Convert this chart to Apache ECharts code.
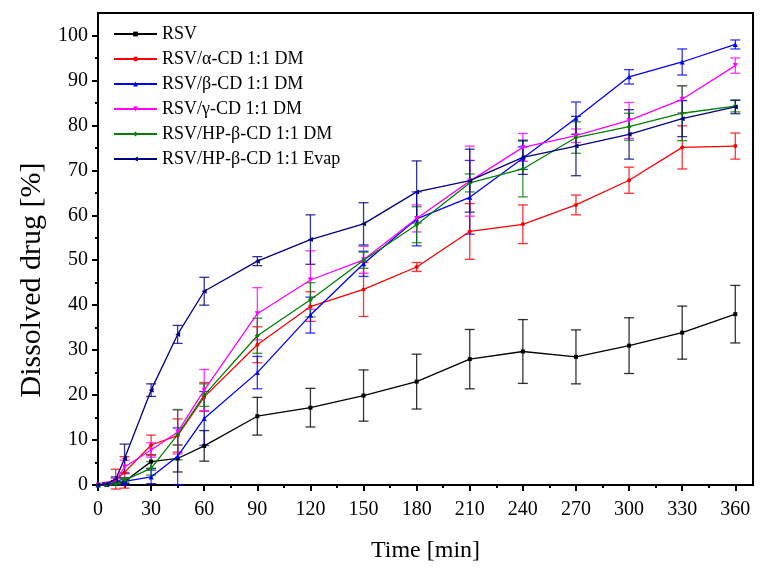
<!DOCTYPE html>
<html>
<head>
<meta charset="utf-8">
<script src="https://cdn.jsdelivr.net/npm/echarts@6/dist/echarts.min.js"></script>
<style>html,body{margin:0;padding:0;background:#fff;}#c{width:763px;height:575px;}</style>
</head>
<body>
<div id="c"></div>
<script>
const times = [0, 5, 10, 15, 30, 45, 60, 90, 120, 150, 180, 210, 240, 270, 300, 330, 360];
const xTicks = [0, 30, 60, 90, 120, 150, 180, 210, 240, 270, 300, 330, 360];
const xMinorTicks = [15, 45, 75, 105, 135, 165, 195, 225, 255, 285, 315, 345];
const yTicks = [0, 10, 20, 30, 40, 50, 60, 70, 80, 90, 100];
const yMinorTicks = [5, 15, 25, 35, 45, 55, 65, 75, 85, 95];

const seriesNames = ['RSV', 'RSV/\u03b1-CD 1:1 DM', 'RSV/\u03b2-CD 1:1 DM', 'RSV/\u03b3-CD 1:1 DM', 'RSV/HP-\u03b2-CD 1:1 DM', 'RSV/HP-\u03b2-CD 1:1 Evap'];

const rsv      = [0, 0, 0.3, 0.8, 5.2, 5.9, 8.7, 15.3, 17.2, 19.9, 23.0, 28.0, 29.7, 28.5, 31.0, 33.9, 38.0];
const rsvErr   = [0, 0, 0.3, 0.5, 1.5, 3.0, 3.4, 4.2, 4.3, 5.7, 6.1, 6.6, 7.1, 6.0, 6.2, 5.9, 6.4];
const alpha    = [0, 0.2, 1.3, 2.8, 8.9, 11.0, 19.6, 31.2, 39.7, 43.5, 48.5, 56.4, 58.0, 62.3, 67.8, 75.1, 75.4];
const alphaErr = [0, 0.3, 2.2, 3.5, 2.2, 3.7, 3.2, 4.0, 3.3, 6.0, 1.0, 6.2, 4.3, 2.2, 2.9, 4.8, 2.9];
const beta     = [0, 0.1, 0.5, 0.8, 1.8, 6.4, 14.8, 25.0, 37.8, 49.2, 59.2, 64.0, 72.7, 81.6, 90.8, 94.1, 98.0];
const betaErr  = [0, 0.1, 0.5, 0.8, 1.5, 6.3, 6.0, 3.6, 4.0, 2.8, 6.0, 8.2, 2.5, 3.6, 1.6, 2.9, 1.0];
const gamma    = [0, 0.2, 1.0, 4.0, 7.8, 11.8, 21.1, 38.1, 45.6, 50.1, 59.3, 67.6, 75.1, 77.7, 81.1, 85.8, 93.3];
const gammaErr = [0, 0.2, 0.5, 1.5, 1.6, 4.9, 4.6, 5.8, 6.5, 3.0, 3.0, 7.8, 3.1, 1.5, 4.0, 3.0, 1.7];
const hpDM     = [0, 0.1, 0.3, 1.1, 3.7, 11.2, 20.0, 33.2, 41.2, 50.0, 57.9, 67.2, 70.3, 77.3, 79.7, 82.7, 84.3];
const hpDMErr  = [0, 0.1, 0.3, 0.5, 1.5, 5.6, 2.5, 3.9, 3.8, 1.8, 4.0, 2.0, 6.2, 3.5, 3.0, 6.1, 1.3];
const hpEvap   = [0, 0.3, 1.3, 5.9, 21.1, 33.5, 43.1, 49.8, 54.6, 58.1, 65.2, 67.7, 72.9, 75.4, 78.0, 81.5, 84.1];
const hpEvapErr= [0, 0.2, 0.5, 3.2, 1.4, 2.0, 3.1, 1.0, 5.5, 4.7, 6.9, 7.0, 3.8, 6.6, 5.5, 4.0, 1.5];

const allVals = [rsv, alpha, beta, gamma, hpDM, hpEvap];
const allErrs = [rsvErr, alphaErr, betaErr, gammaErr, hpDMErr, hpEvapErr];
const colors = ['#000000', '#ff0000', '#0000ff', '#ff00ff', '#008000', '#000080'];
const symbols = ['rect', 'circle', 'triangle', 'triangle', 'diamond', 'triangle'];
const symbolRot = [0, 0, 0, 180, 0, 90];
const symbolSizes = [4, 4, 5, 5, 5, 5];

const FONT = 'Liberation Serif';

function errSeries(idx) {
  const color = colors[idx];
  return {
    type: 'custom',
    name: seriesNames[idx] + ' err',
    z: 1,
    silent: true,
    data: times.map((t, i) => [t, allVals[idx][i] - allErrs[idx][i], allVals[idx][i] + allErrs[idx][i]]),
    encode: { x: 0, y: [1, 2] },
    renderItem: function (params, api) {
      const x = api.value(0);
      const lo = api.coord([x, api.value(1)]);
      const hi = api.coord([x, api.value(2)]);
      if (Math.abs(hi[1] - lo[1]) < 1) return null;
      const w = 5;
      const style = { stroke: color, lineWidth: 1.3, opacity: 0.8 };
      return {
        type: 'group',
        children: [
          { type: 'line', shape: { x1: lo[0], y1: lo[1], x2: hi[0], y2: hi[1] }, style: style },
          { type: 'line', shape: { x1: lo[0] - w, y1: lo[1], x2: lo[0] + w, y2: lo[1] }, style: style },
          { type: 'line', shape: { x1: hi[0] - w, y1: hi[1], x2: hi[0] + w, y2: hi[1] }, style: style }
        ]
      };
    }
  };
}

function lineSeries(idx) {
  return {
    type: 'line',
    name: seriesNames[idx],
    z: 3,
    data: times.map((t, i) => [t, allVals[idx][i]]),
    symbol: symbols[idx],
    symbolRotate: symbolRot[idx],
    symbolSize: symbolSizes[idx],
    showAllSymbol: true,
    lineStyle: { color: colors[idx], width: 1.3 },
    itemStyle: { color: colors[idx] },
    emphasis: { disabled: true },
    animation: false
  };
}

const series = [];
for (let i = 0; i < 6; i++) series.push(errSeries(i));
for (let i = 0; i < 6; i++) series.push(lineSeries(i));

const chart = echarts.init(document.getElementById('c'), null, { renderer: 'canvas' });
chart.setOption({
  animation: false,
  backgroundColor: '#fff',
  textStyle: { fontFamily: FONT },
  grid: { left: 98, right: 10, top: 13, bottom: 90, show: true, borderColor: '#000', borderWidth: 2, backgroundColor: 'transparent' },
  legend: {
    data: seriesNames,
    orient: 'vertical',
    left: 108,
    top: 20,
    itemWidth: 43,
    itemHeight: 6,
    itemGap: 7,
    textStyle: { fontFamily: FONT, fontSize: 18, color: '#000', lineHeight: 18 },
    selectedMode: false
  },
  xAxis: [{
    type: 'value', min: 0, max: 370,
    name: 'Time [min]', nameLocation: 'middle', nameGap: 54,
    nameTextStyle: { fontFamily: FONT, fontSize: 24, color: '#000' },
    axisLine: { show: true, onZero: false, lineStyle: { color: '#000', width: 2 } },
    axisTick: { show: true, inside: false, length: 6, lineStyle: { color: '#000', width: 2 }, customValues: xTicks },
    axisLabel: { show: true, fontFamily: FONT, fontSize: 20, color: '#000', margin: 15, customValues: xTicks },
    splitLine: { show: false }
  }, {
    type: 'value', min: 0, max: 370, position: 'bottom',
    axisLine: { show: false },
    axisTick: { show: true, inside: false, length: 3, lineStyle: { color: '#000', width: 2 }, customValues: xMinorTicks },
    axisLabel: { show: false },
    splitLine: { show: false }
  }],
  yAxis: [{
    type: 'value', min: 0, max: 105,
    name: 'Dissolved drug [%]', nameLocation: 'middle', nameGap: 51,
    nameTextStyle: { fontFamily: FONT, fontSize: 30, color: '#000', padding: [0, 62, 0, 0] },
    axisLine: { show: true, onZero: false, lineStyle: { color: '#000', width: 2 } },
    axisTick: { show: true, inside: false, length: 6, lineStyle: { color: '#000', width: 2 }, customValues: yTicks },
    axisLabel: { show: true, fontFamily: FONT, fontSize: 20, color: '#000', margin: 10, customValues: yTicks },
    splitLine: { show: false }
  }, {
    type: 'value', min: 0, max: 105, position: 'left',
    axisLine: { show: false },
    axisTick: { show: true, inside: false, length: 3, lineStyle: { color: '#000', width: 2 }, customValues: yMinorTicks },
    axisLabel: { show: false },
    splitLine: { show: false }
  }],
  series: series
});
</script>
</body>
</html>
